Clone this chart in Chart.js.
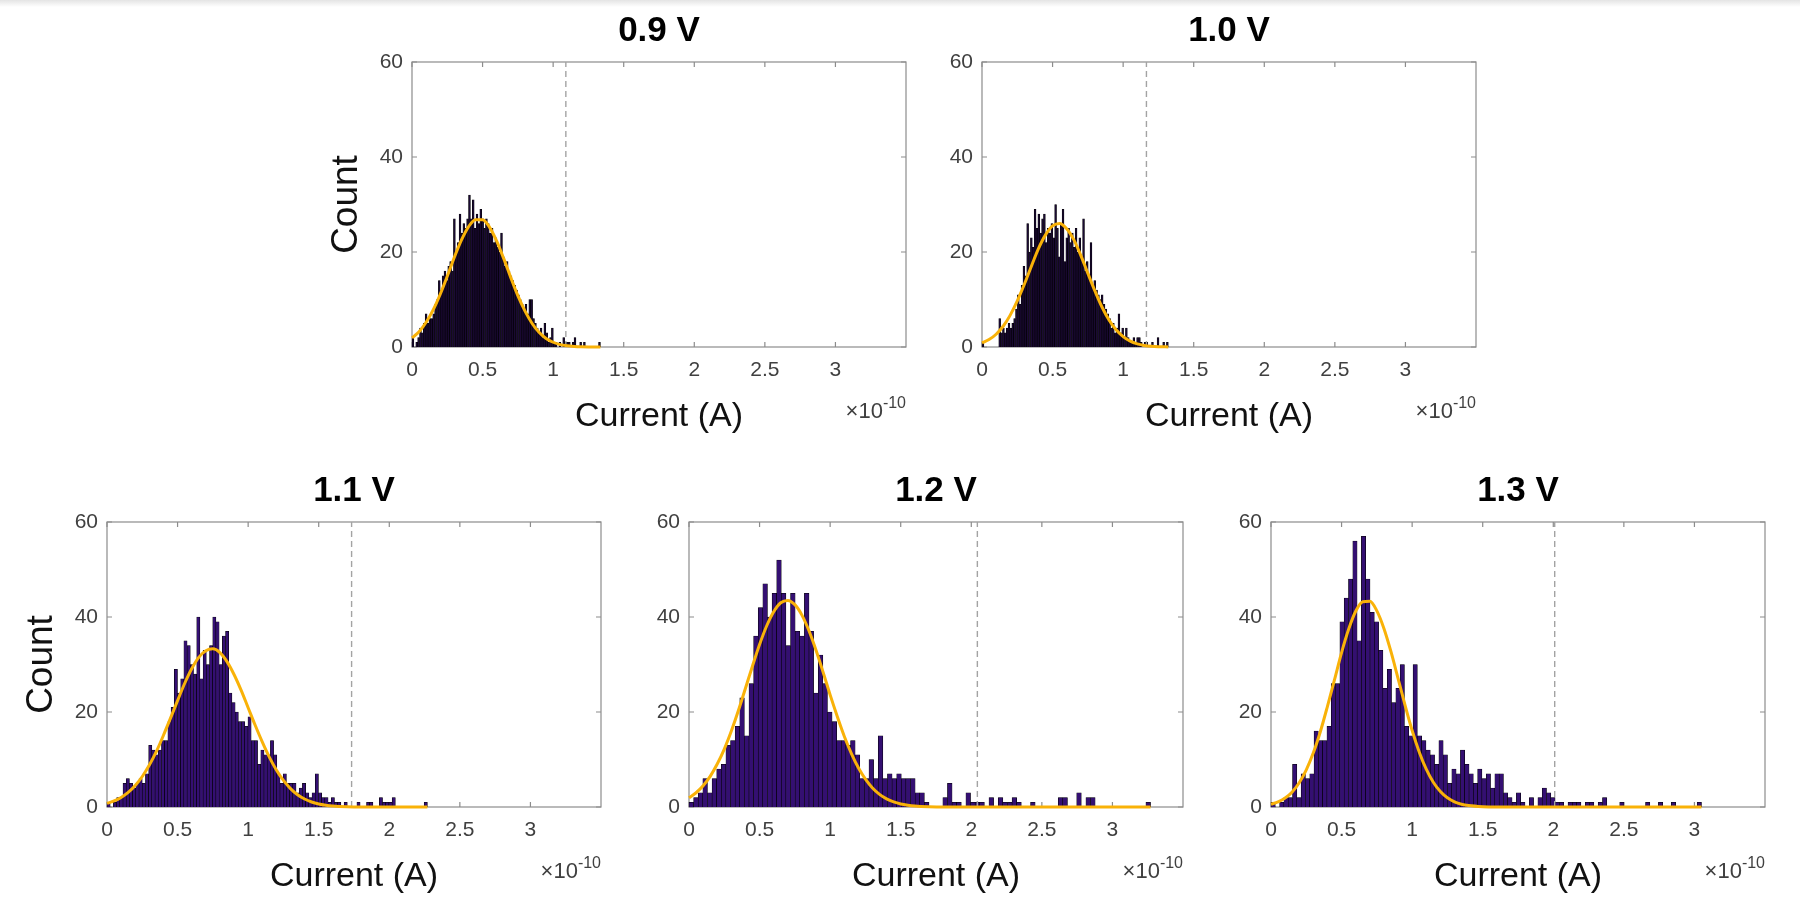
<!DOCTYPE html>
<html>
<head>
<meta charset="utf-8">
<title>Current histograms</title>
<script src="https://cdn.jsdelivr.net/npm/chart.js@4.4.1/dist/chart.umd.min.js"></script>
<style>
  html, body { margin: 0; padding: 0; background: #fff; }
  body { width: 1800px; height: 899px; position: relative; overflow: hidden; }
  .topband { position: absolute; left: 0; top: 0; width: 1800px; height: 7px; background: linear-gradient(#e4e4e4, #ffffff); }
  canvas { position: absolute; }
</style>
</head>
<body>
<div class="topband"></div>
<canvas id="c09" width="614" height="439"></canvas>
<canvas id="c10" width="614" height="439"></canvas>
<canvas id="c11" width="614" height="439"></canvas>
<canvas id="c12" width="614" height="439"></canvas>
<canvas id="c13" width="614" height="439"></canvas>
<script>
// panel titles
var voltageLabels = ['0.9 V', '1.0 V', '1.1 V', '1.2 V', '1.3 V'];

// axis ticks (x in units of 1e-10 A)
var xTicks = [0, 0.5, 1, 1.5, 2, 2.5, 3];
var yTicks = [0, 20, 40, 60];

// largest current in each set (100 equal bins from 0 up to it)
var binMax = [1.335, 1.32, 2.27, 3.27, 3.05];

// dashed threshold line per panel
var thresholds = [1.09, 1.165, 1.733, 2.043, 2.01];

// histogram counts, 100 bins each
var counts09 = [2,0,1,2,4,3,5,7,5,6,
  6,7,9,10,14,12,15,16,14,17,
  18,16,27,20,22,28,24,26,25,27,
  32,27,31,25,28,26,29,27,25,27,
  26,24,25,22,23,21,20,24,19,17,
  18,16,15,14,13,12,11,10,9,8,
  9,7,10,10,6,5,4,3,4,2,
  5,3,1,2,4,1,1,0,1,0,
  2,1,1,1,0,1,2,0,0,1,
  0,1,0,0,0,0,0,0,0,1];
var counts10 = [1,0,0,0,0,0,0,0,0,6,
  3,4,3,4,5,4,5,6,8,11,
  9,13,17,15,26,20,23,21,29,25,
  28,24,27,28,22,25,24,26,23,30,
  25,19,26,29,18,23,25,22,24,21,
  25,20,23,19,27,16,18,15,22,13,
  14,12,11,10,11,9,8,7,6,4,
  5,3,4,7,3,4,2,4,2,1,
  1,2,1,2,2,1,0,1,1,0,
  0,1,0,0,2,0,0,1,0,1];
var counts11 = [1,0,1,2,2,5,6,5,4,5,
  6,5,7,13,12,11,12,14,14,18,
  21,29,24,27,35,34,30,28,40,27,
  33,30,34,40,39,30,36,37,24,22,
  20,18,18,17,19,14,14,9,12,11,
  11,14,11,7,5,7,5,5,5,3,
  4,5,3,2,3,7,3,2,2,1,
  2,1,1,0,1,0,0,0,1,0,
  0,1,1,0,0,2,1,1,1,2,
  0,0,0,0,0,0,0,0,0,1];
var counts12 = [1,2,3,6,3,6,8,9,13,14,
  17,23,15,26,36,42,47,40,45,52,
  45,34,45,37,36,45,37,24,32,26,
  20,18,14,14,13,14,11,6,6,10,
  6,15,6,7,6,7,6,6,6,3,
  3,1,0,0,0,2,5,1,1,0,
  3,1,1,1,0,2,0,2,1,1,
  2,1,0,0,1,0,0,0,0,0,
  2,2,0,0,3,0,2,2,0,0,
  0,0,0,0,0,0,0,0,0,1];
var counts13 = [1,0,1,2,2,9,2,7,6,7,
  16,14,14,17,26,26,39,44,48,56,
  35,57,48,41,39,33,25,29,22,25,
  30,17,15,30,15,14,12,11,9,14,
  11,5,8,7,12,9,7,5,8,6,
  7,4,7,7,3,2,1,3,1,0,
  2,0,2,4,3,2,1,1,0,1,
  1,1,0,1,1,0,1,2,0,0,
  0,1,0,0,0,0,0,1,0,0,
  1,0,0,1,0,0,0,0,0,1];

// fitted normal curves
var fitX09 = [0,0.05,0.1,0.15,0.2,0.25,0.3,0.35,0.4,0.45,0.5,0.55,0.6,0.65,0.7,0.75,0.8,0.85,0.9,0.95,1.0,1.05,1.1,1.15,1.2,1.25,1.3,1.335];
var fitY09 = [1.9,3.2,5.2,7.8,11.1,14.9,18.9,22.5,25.3,26.8,26.8,25.2,22.3,18.6,14.6,10.8,7.6,5.0,3.1,1.8,1.0,0.5,0.25,0.12,0.05,0.02,0.01,0];
var fitX10 = [0,0.05,0.1,0.15,0.2,0.25,0.3,0.35,0.4,0.45,0.5,0.55,0.6,0.65,0.7,0.75,0.8,0.85,0.9,0.95,1.0,1.05,1.1,1.15,1.2,1.25,1.3,1.32];
var fitY10 = [0.85,1.56,2.69,4.37,6.71,9.7,13.2,17.0,20.7,23.6,25.5,26.0,24.9,22.6,19.3,15.5,11.8,8.42,5.69,3.62,2.18,1.23,0.66,0.33,0.16,0.07,0.03,0.02];
var fitX11 = [0,0.05,0.1,0.15,0.2,0.25,0.3,0.35,0.4,0.45,0.5,0.55,0.6,0.65,0.7,0.75,0.8,0.85,0.9,0.95,1.0,1.05,1.1,1.15,1.2,1.25,1.3,1.35,1.4,1.45,1.5,1.55,1.6,1.7,1.8,2.0,2.27];
var fitY11 = [0.78,1.27,2.01,3.06,4.51,6.42,8.83,11.7,15.1,18.7,22.4,26.0,29.1,31.5,32.9,33.3,32.5,30.6,27.9,24.6,20.9,17.2,13.7,10.5,7.8,5.59,3.88,2.59,1.68,1.05,0.63,0.37,0.21,0.06,0.01,0,0];
var fitX12 = [0,0.05,0.1,0.15,0.2,0.25,0.3,0.35,0.4,0.45,0.5,0.55,0.6,0.65,0.7,0.75,0.8,0.85,0.9,0.95,1.0,1.05,1.1,1.15,1.2,1.25,1.3,1.35,1.4,1.45,1.5,1.55,1.6,1.7,1.8,2.0,3.27];
var fitY12 = [1.95,3.0,4.48,6.46,9.04,12.2,16.0,20.3,25.0,29.7,34.2,38.1,41.1,43.0,43.5,42.6,40.4,37.1,33.0,28.4,23.6,19.1,14.9,11.3,8.25,5.85,4.01,2.67,1.72,1.07,0.64,0.38,0.21,0.06,0.02,0,0];
var fitX13 = [0,0.05,0.1,0.15,0.2,0.25,0.3,0.35,0.4,0.45,0.5,0.55,0.6,0.65,0.7,0.75,0.8,0.85,0.9,0.95,1.0,1.05,1.1,1.15,1.2,1.25,1.3,1.35,1.4,1.5,1.6,1.8,3.05];
var fitY13 = [0.58,1.07,1.89,3.18,5.11,7.83,11.4,15.9,21.2,26.8,32.5,37.4,41.2,43.2,43.3,41.3,37.6,32.7,27.1,21.4,16.1,11.6,7.96,5.2,3.25,1.93,1.1,0.59,0.31,0.07,0.01,0,0];

var FONT = '"Liberation Sans", Arial, Helvetica, sans-serif';

// axes box with inward ticks on all four sides + exponent label
var matlabAxes = {
    id: 'matlabAxes',
    beforeDatasetsDraw: function(chart) {
        var ctx = chart.ctx, a = chart.chartArea;
        var x = chart.scales.x, y = chart.scales.y;
        ctx.save();
        ctx.strokeStyle = '#8c8c8c';
        ctx.lineWidth = 1.2;
        ctx.beginPath();
        xTicks.forEach(function(v) {
            var px = x.getPixelForValue(v);
            ctx.moveTo(px, a.bottom); ctx.lineTo(px, a.bottom - 5);
            ctx.moveTo(px, a.top); ctx.lineTo(px, a.top + 5);
        });
        yTicks.forEach(function(v) {
            var py = y.getPixelForValue(v);
            ctx.moveTo(a.left, py); ctx.lineTo(a.left + 5, py);
            ctx.moveTo(a.right, py); ctx.lineTo(a.right - 5, py);
        });
        ctx.stroke();
        ctx.strokeRect(a.left, a.top, a.right - a.left, a.bottom - a.top);
        ctx.restore();
    },
    afterDraw: function(chart) {
        var ctx = chart.ctx, a = chart.chartArea;
        ctx.save();
        ctx.fillStyle = '#404040';
        ctx.textAlign = 'left';
        ctx.textBaseline = 'alphabetic';
        ctx.font = '16px ' + FONT;
        var supW = ctx.measureText('-10').width;
        ctx.font = '22px ' + FONT;
        var baseW = ctx.measureText('\u00d710').width;
        var x0 = a.right - supW - baseW;
        ctx.fillText('\u00d710', x0, a.bottom + 71);
        ctx.font = '16px ' + FONT;
        ctx.fillText('-10', x0 + baseW, a.bottom + 61);
        ctx.restore();
    }
};

// thin top-row bars read almost black because the edges dominate
var panels = [
    { id: 'c09', counts: counts09, fitX: fitX09, fitY: fitY09, left: 412, top: 62, countLabel: true, fill: '#1b0a34' },
    { id: 'c10', counts: counts10, fitX: fitX10, fitY: fitY10, left: 982, top: 62, countLabel: false, fill: '#1b0a34' },
    { id: 'c11', counts: counts11, fitX: fitX11, fitY: fitY11, left: 107, top: 522, countLabel: true, fill: '#340f72' },
    { id: 'c12', counts: counts12, fitX: fitX12, fitY: fitY12, left: 689, top: 522, countLabel: false, fill: '#340f72' },
    { id: 'c13', counts: counts13, fitX: fitX13, fitY: fitY13, left: 1271, top: 522, countLabel: false, fill: '#340f72' }
];

panels.forEach(function(p, k) {
    var canvas = document.getElementById(p.id);
    canvas.style.left = (p.left - 100) + 'px';
    canvas.style.top = (p.top - 62) + 'px';

    var binWidth = binMax[k] / p.counts.length;
    var bars = p.counts.map(function(c, i) { return { x: (i + 0.5) * binWidth, y: c }; });
    var fit = p.fitX.map(function(v, i) { return { x: v, y: p.fitY[i] }; });
    var thr = [{ x: thresholds[k], y: yTicks[0] }, { x: thresholds[k], y: yTicks[yTicks.length - 1] }];

    new Chart(canvas, {
        type: 'bar',
        data: {
            datasets: [
                { type: 'line', data: fit, borderColor: '#f9b208', borderWidth: 3, pointRadius: 0,
                  cubicInterpolationMode: 'monotone', clip: false, order: 0 },
                { type: 'line', data: thr, borderColor: '#a3a3a3', borderWidth: 1.4, borderDash: [6, 4],
                  pointRadius: 0, order: 1 },
                { type: 'bar', data: bars, backgroundColor: p.fill, borderColor: '#000000', borderWidth: 0.6,
                  barPercentage: 1, categoryPercentage: 1, order: 2 }
            ]
        },
        options: {
            responsive: false,
            animation: false,
            events: [],
            layout: { padding: { top: 0, right: 20, bottom: 0, left: 0 } },
            plugins: {
                legend: { display: false },
                tooltip: { enabled: false },
                title: {
                    display: true, text: voltageLabels[k], fullSize: false, color: '#000',
                    font: { family: FONT, size: 35, weight: 'bold', lineHeight: 1 },
                    padding: { top: 14, bottom: 13 }
                }
            },
            scales: {
                x: {
                    type: 'linear', min: 0, max: 3.5, offset: false,
                    grid: { display: false, drawTicks: false },
                    border: { display: false },
                    afterBuildTicks: function(s) { s.ticks = xTicks.map(function(v) { return { value: v }; }); },
                    afterFit: function(s) { s.height = 92; },
                    ticks: { padding: 11, color: '#404040', font: { family: FONT, size: 21 },
                             maxRotation: 0, autoSkip: false, callback: function(v) { return String(v); } },
                    title: { display: true, text: 'Current (A)', color: '#111',
                             font: { family: FONT, size: 34, lineHeight: 1 }, padding: { top: 0, bottom: 5 } }
                },
                y: {
                    min: 0, max: 60,
                    grid: { display: false, drawTicks: false },
                    border: { display: false },
                    afterBuildTicks: function(s) { s.ticks = yTicks.map(function(v) { return { value: v }; }); },
                    afterFit: function(s) { s.width = 100; },
                    ticks: { padding: 9, color: '#404040', font: { family: FONT, size: 21 },
                             callback: function(v) { return String(v); } },
                    title: { display: p.countLabel, text: 'Count', color: '#111',
                             font: { family: FONT, size: 37, lineHeight: 1 }, padding: { top: 16, bottom: 0 } }
                }
            }
        },
        plugins: [matlabAxes]
    });
});
</script>
</body>
</html>
